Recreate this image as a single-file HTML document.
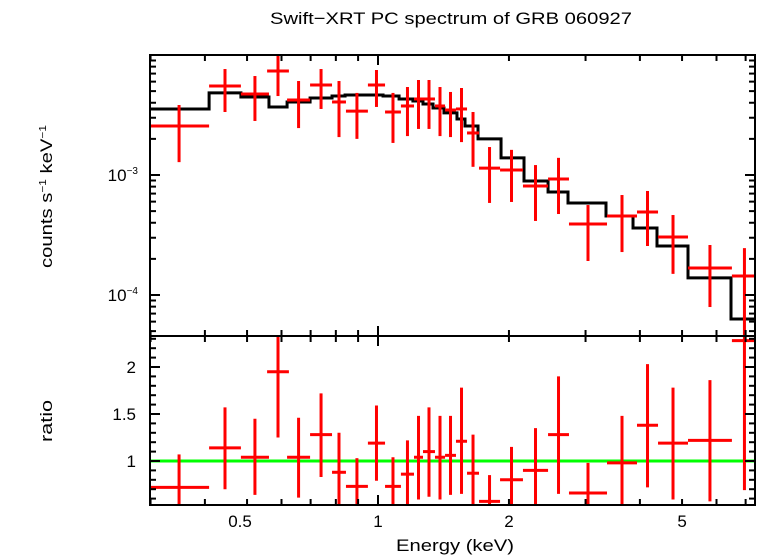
<!DOCTYPE html>
<html><head><meta charset="utf-8"><style>
html,body{margin:0;padding:0;background:#fff;}
svg{display:block;font-family:"Liberation Sans",sans-serif;}
</style></head><body>
<svg id="chart" width="758" height="556" viewBox="0 0 758 556" xmlns="http://www.w3.org/2000/svg">
<text x="270" y="24" font-size="17" textLength="362" lengthAdjust="spacingAndGlyphs">Swift−XRT PC spectrum of GRB 060927</text>
<text transform="translate(52,268) rotate(-90)" font-size="17" textLength="143" lengthAdjust="spacingAndGlyphs">counts s<tspan font-size="10" dy="-6">−1</tspan><tspan dy="6"> keV</tspan><tspan font-size="10" dy="-6">−1</tspan></text>
<text transform="translate(52,442) rotate(-90)" font-size="17" textLength="42" lengthAdjust="spacingAndGlyphs">ratio</text>
<text x="396" y="551" font-size="17" textLength="118" lengthAdjust="spacingAndGlyphs">Energy (keV)</text>
<g id="g"></g>
</svg>
<script>
const xTickValues=[0.5,1,2,5];
const xTickLabels=["0.5","1","2","5"];
const topTickValues=[1e-3,1e-4];
const ratioTickValues=[1,1.5,2];
const ratioTickLabels=["1","1.5","2"];
const binLo=[0.2976,0.409,0.484,0.556,0.618,0.698,0.784,0.844,0.948,1.038,1.129,1.21,1.269,1.352,1.426,1.511,1.602,1.707,1.908,2.154,2.46,2.748,3.361,3.939,4.403,5.16,6.51];
const binHi=[0.409,0.484,0.5615,0.624,0.698,0.784,0.844,0.948,1.038,1.129,1.21,1.269,1.352,1.426,1.511,1.602,1.707,1.908,2.154,2.46,2.748,3.361,3.939,4.403,5.16,6.51,7.434];
const counts=[2.56e-3,5.52e-3,4.73e-3,7.36e-3,4.22e-3,5.62e-3,4.06e-3,3.41e-3,5.62e-3,3.35e-3,3.76e-3,4.30e-3,4.30e-3,3.76e-3,3.48e-3,3.55e-3,2.24e-3,1.14e-3,1.10e-3,8.10e-4,9.26e-4,3.91e-4,4.55e-4,4.92e-4,3.04e-4,1.68e-4,1.44e-4];
const countsLo=[1.28e-3,3.35e-3,2.82e-3,4.55e-3,2.46e-3,3.55e-3,2.07e-3,2.00e-3,3.69e-3,1.85e-3,2.11e-3,2.42e-3,2.42e-3,2.11e-3,2.07e-3,1.88e-3,1.17e-3,5.85e-4,5.96e-4,4.14e-4,4.73e-4,1.92e-4,2.28e-4,2.56e-4,1.50e-4,7.94e-5,4.0e-5];
const countsHi=[3.83e-3,7.64e-3,6.68e-3,1.0e-2,6.07e-3,7.64e-3,6.07e-3,4.83e-3,7.50e-3,4.83e-3,5.41e-3,6.19e-3,6.19e-3,5.41e-3,4.92e-3,5.31e-3,3.35e-3,1.71e-3,1.62e-3,1.21e-3,1.39e-3,5.62e-4,6.81e-4,7.36e-4,4.64e-4,2.61e-4,2.46e-4];
const ratio=[0.72,1.14,1.04,1.95,1.04,1.28,0.88,0.73,1.19,0.73,0.86,1.04,1.10,1.04,1.06,1.21,0.87,0.57,0.80,0.90,1.28,0.66,0.98,1.38,1.19,1.22,2.28];
const ratioLo=[0.45,0.70,0.64,1.25,0.61,0.83,0.51,0.45,0.79,0.45,0.45,0.59,0.62,0.59,0.64,0.65,0.45,0.45,0.45,0.45,0.65,0.45,0.45,0.72,0.59,0.57,0.69];
const ratioHi=[1.07,1.57,1.45,2.32,1.46,1.72,1.30,1.03,1.59,1.04,1.22,1.48,1.57,1.48,1.48,1.78,1.28,0.85,1.15,1.35,1.90,0.98,1.48,2.03,1.78,1.86,2.4];
const modelEdges=[0.2976,0.409,0.484,0.5615,0.618,0.698,0.784,0.840,1.027,1.118,1.203,1.269,1.338,1.418,1.519,1.585,1.698,1.918,2.166,2.460,2.734,3.343,3.857,4.379,5.160,6.479,7.434];
const modelVals=[3.55e-3,4.83e-3,4.47e-3,3.69e-3,4.06e-3,4.38e-3,4.55e-3,4.64e-3,4.55e-3,4.30e-3,4.14e-3,3.91e-3,3.62e-3,3.29e-3,2.93e-3,2.56e-3,2.00e-3,1.39e-3,8.91e-4,7.22e-4,5.85e-4,4.55e-4,3.62e-4,2.56e-4,1.39e-4,6.31e-5];

const L=150,R=755,T1=55,B1=336,T2=336,B2=505;
const X0=378,XD=435;
function xs(e){return X0+XD*Math.log10(e);}
function yc(c){return T1+120*(-2-Math.log10(c));}
function yr(r){return 461-(r-1)*94;}
function cl(v,a,b){return Math.max(a,Math.min(b,v));}
const NS="http://www.w3.org/2000/svg";
const g=document.getElementById('g');
function mk(tag,attrs,name){const el=document.createElementNS(NS,tag);for(const k in attrs)el.setAttribute(k,attrs[k]);


g.appendChild(el);return el;}
function line(x1,y1,x2,y2,stroke,w,name){return mk('line',{x1,y1,x2,y2,stroke,'stroke-width':w},name);}

let d="";
for(let i=0;i<modelVals.length;i++){const xa=xs(modelEdges[i]),xb=cl(xs(modelEdges[i+1]),L,R),y=yc(modelVals[i]);d+=(i==0?"M":"L")+xa+","+y+"L"+xb+","+y;}
mk('path',{d,fill:'none',stroke:'#000','stroke-width':3},'model-step-line');

for(let i=0;i<counts.length;i++){
 const xa=xs(binLo[i]),xb=cl(xs(binHi[i]),L,R),xc=xs(Math.sqrt(binLo[i]*binHi[i])),y=yc(counts[i]);
 line(xa,y,xb,y,'#f00',3,'data-point-xerr');
 line(xc,cl(yc(countsHi[i]),T1,B1),xc,cl(yc(countsLo[i]),T1,B1),'#f00',3,'data-point-yerr');
}
line(L,yr(1),R,yr(1),'#0f0',3,'unity-ratio-line');
for(let i=0;i<ratio.length;i++){
 const xa=xs(binLo[i]),xb=cl(xs(binHi[i]),L,R),xc=xs(Math.sqrt(binLo[i]*binHi[i])),y=yr(ratio[i]);
 line(xa,y,xb,y,'#f00',3,'ratio-point-xerr');
 line(xc,cl(yr(ratioHi[i]),T2,B2),xc,cl(yr(ratioLo[i]),T2,B2),'#f00',3,'ratio-point-yerr');
}
mk('rect',{x:L,y:T1,width:R-L,height:B1-T1,fill:'none',stroke:'#000','stroke-width':2},'top-panel-frame');
mk('rect',{x:L,y:T2,width:R-L,height:B2-T2,fill:'none',stroke:'#000','stroke-width':2},'bottom-panel-frame');
const minors=[0.3,0.4,0.5,0.6,0.7,0.8,0.9,1,2,3,4,5,6,7];
for(const e of minors){const x=xs(e);if(x<L||x>R)continue;const len=(e==1)?10:6;
 for(const [yt,yb] of [[T1,B1],[T2,B2]]){line(x,yt,x,yt+len,'#000',2,'x-tick');line(x,yb,x,yb-len,'#000',2,'x-tick');}}
xTickValues.forEach((v,i)=>{const t=mk('text',{x:xs(v)-(i==0?7:0),y:527,'font-size':17,'text-anchor':'middle'},'x-tick-label');t.textContent=xTickLabels[i];});
for(let dec=-5;dec<=-2;dec++)for(let m=1;m<10;m++){const c=m*Math.pow(10,dec);const y=yc(c);if(y<T1||y>B1)continue;const len=m==1?10:6;
 line(L,y,L+len,y,'#000',2,'y-tick');line(R,y,R-len,y,'#000',2,'y-tick');}
topTickValues.forEach(v=>{const ex=Math.round(Math.log10(v));const t=mk('text',{x:138,y:yc(v)+6,'font-size':17,'text-anchor':'end'},'y-tick-label');
 t.innerHTML='10<tspan font-size="10" dy="-7">'+(ex<0?'−':'')+Math.abs(ex)+'</tspan>';});
for(let k=6;k<=23;k++){const r=k/10;const y=yr(r);if(y<T2||y>B2)continue;const major=(k%5==0);const len=major?10:6;
 line(L,y,L+len,y,'#000',2,'ratio-tick');line(R,y,R-len,y,'#000',2,'ratio-tick');}
ratioTickValues.forEach((v,i)=>{const t=mk('text',{x:136,y:yr(v)+6,'font-size':17,'text-anchor':'end'},'ratio-tick-label');t.textContent=ratioTickLabels[i];});
</script>
</body></html>
